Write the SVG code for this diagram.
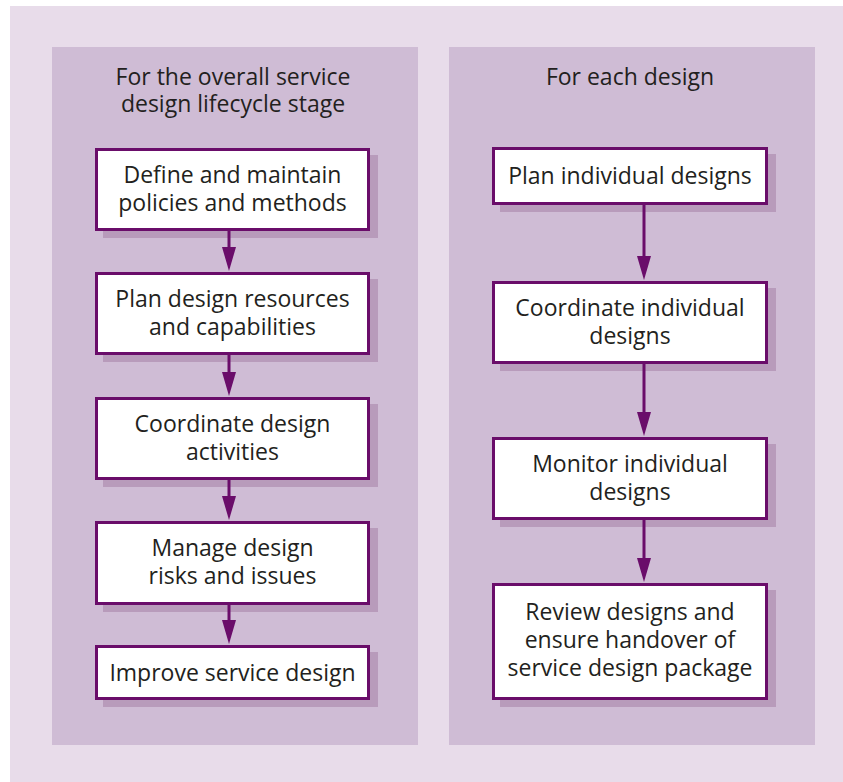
<svg xmlns="http://www.w3.org/2000/svg" width="843" height="782" viewBox="0 0 843 782">
<defs>
<style>
.bg{fill:#e8dcea}
.panel{fill:#cfbcd5}
.box{fill:#ffffff;stroke:#6a0d6a;stroke-width:3}
.shadow{fill:#b89bbb}
.t{font-family:"Open Sans","Noto Sans","DejaVu Sans",sans-serif;font-size:23px;fill:#231f20;text-anchor:middle}
.conn{stroke:#6a0d6a;stroke-width:3;fill:none}
.ah{fill:#6a0d6a}
</style>
</defs>
<rect x="10" y="6" width="833" height="776" class="bg"/>
<g id="panel-left">
<rect x="52" y="47" width="366" height="698" class="panel"/>
<text class="t" x="233" y="85">For the overall service</text>
<text class="t" x="233" y="112">design lifecycle stage</text>
</g>
<g id="panel-right">
<rect x="449" y="47" width="366" height="698" class="panel"/>
<text class="t" x="630" y="85">For each design</text>
</g>
<g id="n1">
<rect x="103" y="155" width="275" height="83" class="shadow"/>
<rect x="96.5" y="149.5" width="272" height="80" class="box"/>
<text class="t" x="232.5" y="183">Define and maintain</text>
<text class="t" x="232.5" y="211">policies and methods</text>
</g>
<g id="n2">
<rect x="103" y="279" width="275" height="83" class="shadow"/>
<rect x="96.5" y="273.5" width="272" height="80" class="box"/>
<text class="t" x="232.5" y="307">Plan design resources</text>
<text class="t" x="232.5" y="335">and capabilities</text>
</g>
<g id="n3">
<rect x="103" y="404" width="275" height="83" class="shadow"/>
<rect x="96.5" y="398.5" width="272" height="80" class="box"/>
<text class="t" x="232.5" y="432">Coordinate design</text>
<text class="t" x="232.5" y="460">activities</text>
</g>
<g id="n4">
<rect x="103" y="528" width="275" height="84" class="shadow"/>
<rect x="96.5" y="522.5" width="272" height="81" class="box"/>
<text class="t" x="232.5" y="556">Manage design</text>
<text class="t" x="232.5" y="584">risks and issues</text>
</g>
<g id="n5">
<rect x="103" y="652" width="275" height="55" class="shadow"/>
<rect x="96.5" y="646.5" width="272" height="52" class="box"/>
<text class="t" x="232.5" y="681">Improve service design</text>
</g>
<g id="m1">
<rect x="500" y="154" width="276" height="58" class="shadow"/>
<rect x="493.5" y="148.5" width="273" height="55" class="box"/>
<text class="t" x="630" y="184">Plan individual designs</text>
</g>
<g id="m2">
<rect x="500" y="288" width="276" height="83" class="shadow"/>
<rect x="493.5" y="282.5" width="273" height="80" class="box"/>
<text class="t" x="630" y="316">Coordinate individual</text>
<text class="t" x="630" y="344">designs</text>
</g>
<g id="m3">
<rect x="500" y="444" width="276" height="83" class="shadow"/>
<rect x="493.5" y="438.5" width="273" height="80" class="box"/>
<text class="t" x="630" y="472">Monitor individual</text>
<text class="t" x="630" y="500">designs</text>
</g>
<g id="m4">
<rect x="500" y="590" width="276" height="117" class="shadow"/>
<rect x="493.5" y="584.5" width="273" height="114" class="box"/>
<text class="t" x="630" y="620">Review designs and</text>
<text class="t" x="630" y="648">ensure handover of</text>
<text class="t" x="630" y="676">service design package</text>
</g>
<g id="connectors">
<line class="conn" x1="229" y1="231" x2="229" y2="247"/>
<path class="ah" d="M222,247 L236,247 L229,271 Z"/>
<line class="conn" x1="229" y1="355" x2="229" y2="372"/>
<path class="ah" d="M222,372 L236,372 L229,396 Z"/>
<line class="conn" x1="229" y1="480" x2="229" y2="496"/>
<path class="ah" d="M222,496 L236,496 L229,520 Z"/>
<line class="conn" x1="229" y1="605" x2="229" y2="620"/>
<path class="ah" d="M222,620 L236,620 L229,644 Z"/>
<line class="conn" x1="644" y1="205" x2="644" y2="256"/>
<path class="ah" d="M637,256 L651,256 L644,280 Z"/>
<line class="conn" x1="644" y1="364" x2="644" y2="412"/>
<path class="ah" d="M637,412 L651,412 L644,436 Z"/>
<line class="conn" x1="644" y1="520" x2="644" y2="558"/>
<path class="ah" d="M637,558 L651,558 L644,582 Z"/>
</g>
</svg>
